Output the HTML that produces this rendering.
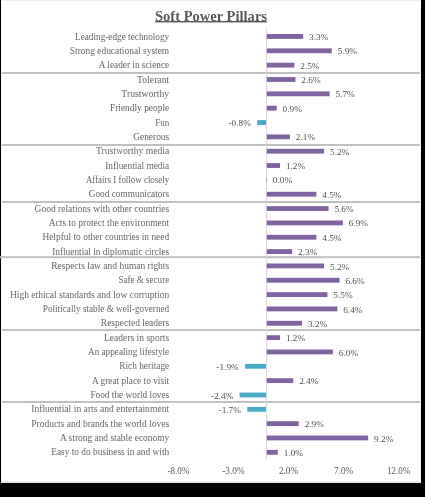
<!DOCTYPE html>
<html><head><meta charset="utf-8"><style>
html,body{margin:0;padding:0;background:#000;width:425px;height:497px;overflow:hidden}
#panel{position:absolute;left:1px;top:0;width:420px;height:483px;background:#fff}
svg{position:absolute;left:0;top:0;will-change:transform}
.lb{font-family:"Liberation Serif",serif;font-size:9.3px;fill:#666666}
.dl{font-family:"Liberation Serif",serif;font-size:9.0px;fill:#505050}
.ax{font-family:"Liberation Serif",serif;font-size:10px;fill:#595959}
.tt{font-family:"Liberation Serif",serif;font-size:14.6px;font-weight:bold;fill:#595959}
</style></head><body>
<div id="panel"></div>
<svg width="425" height="497" viewBox="0 0 425 497">
<rect x="1" y="0" width="420" height="1" fill="#ececec"/>
<rect x="1" y="481" width="420" height="2" fill="#e8e8e8"/>
<rect x="420" y="0" width="1" height="483" fill="#f7f7f7"/>
<rect x="1" y="0" width="1" height="483" fill="#f7f7f7"/>
<text x="155" y="21.1" class="tt" textLength="112" lengthAdjust="spacingAndGlyphs">Soft Power Pillars</text>
<rect x="155" y="21.0" width="112" height="1.4" fill="#595959"/>
<rect x="2" y="72.00" width="418" height="2" fill="#c0c0c0"/>
<rect x="2" y="144.00" width="418" height="2" fill="#c0c0c0"/>
<rect x="2" y="201.00" width="418" height="2" fill="#c0c0c0"/>
<rect x="0" y="256.20" width="420" height="2" fill="#c0c0c0"/>
<rect x="2" y="329.00" width="418" height="2" fill="#c0c0c0"/>
<rect x="2" y="401.00" width="418" height="2" fill="#c0c0c0"/>
<rect x="266.00" y="28.70" width="1" height="431.20" fill="#d9d9d9"/>
<text x="75.00" y="39.57" textLength="94.20" lengthAdjust="spacingAndGlyphs" class="lb">Leading-edge technology</text>
<rect x="266.80" y="34.05" width="36.37" height="4.85" fill="#8064a2"/>
<text x="309.07" y="40.07" textLength="19.31" lengthAdjust="spacingAndGlyphs" class="dl">3.3%</text>
<text x="69.80" y="53.91" textLength="99.40" lengthAdjust="spacingAndGlyphs" class="lb">Strong educational system</text>
<rect x="266.80" y="48.39" width="65.02" height="4.85" fill="#8064a2"/>
<text x="337.72" y="54.41" textLength="19.31" lengthAdjust="spacingAndGlyphs" class="dl">5.9%</text>
<text x="98.80" y="68.25" textLength="70.40" lengthAdjust="spacingAndGlyphs" class="lb">A leader in science</text>
<rect x="266.80" y="62.73" width="27.55" height="4.85" fill="#8064a2"/>
<text x="300.25" y="68.75" textLength="19.31" lengthAdjust="spacingAndGlyphs" class="dl">2.5%</text>
<text x="137.10" y="82.59" textLength="32.10" lengthAdjust="spacingAndGlyphs" class="lb">Tolerant</text>
<rect x="266.80" y="77.06" width="28.65" height="4.85" fill="#8064a2"/>
<text x="301.35" y="83.09" textLength="19.31" lengthAdjust="spacingAndGlyphs" class="dl">2.6%</text>
<text x="121.30" y="96.93" textLength="47.90" lengthAdjust="spacingAndGlyphs" class="lb">Trustworthy</text>
<rect x="266.80" y="91.41" width="62.81" height="4.85" fill="#8064a2"/>
<text x="335.51" y="97.43" textLength="19.31" lengthAdjust="spacingAndGlyphs" class="dl">5.7%</text>
<text x="110.00" y="111.27" textLength="59.20" lengthAdjust="spacingAndGlyphs" class="lb">Friendly people</text>
<rect x="266.80" y="105.75" width="9.92" height="4.85" fill="#8064a2"/>
<text x="282.62" y="111.77" textLength="19.31" lengthAdjust="spacingAndGlyphs" class="dl">0.9%</text>
<text x="155.20" y="125.61" textLength="14.00" lengthAdjust="spacingAndGlyphs" class="lb">Fun</text>
<rect x="257.18" y="120.08" width="8.82" height="4.85" fill="#4bacc6"/>
<text x="228.48" y="126.11" textLength="22.40" lengthAdjust="spacingAndGlyphs" class="dl">-0.8%</text>
<text x="133.20" y="139.95" textLength="36.00" lengthAdjust="spacingAndGlyphs" class="lb">Generous</text>
<rect x="266.80" y="134.42" width="23.14" height="4.85" fill="#8064a2"/>
<text x="295.84" y="140.45" textLength="19.31" lengthAdjust="spacingAndGlyphs" class="dl">2.1%</text>
<text x="96.00" y="154.29" textLength="73.20" lengthAdjust="spacingAndGlyphs" class="lb">Trustworthy media</text>
<rect x="266.80" y="148.76" width="57.30" height="4.85" fill="#8064a2"/>
<text x="330.00" y="154.79" textLength="19.31" lengthAdjust="spacingAndGlyphs" class="dl">5.2%</text>
<text x="105.20" y="168.63" textLength="64.00" lengthAdjust="spacingAndGlyphs" class="lb">Influential media</text>
<rect x="266.80" y="163.10" width="13.22" height="4.85" fill="#8064a2"/>
<text x="285.92" y="169.13" textLength="19.31" lengthAdjust="spacingAndGlyphs" class="dl">1.2%</text>
<text x="85.90" y="182.97" textLength="83.30" lengthAdjust="spacingAndGlyphs" class="lb">Affairs I follow closely</text>
<rect x="266" y="177.44" width="1" height="4.85" fill="#b3a2c8"/>
<text x="272.80" y="183.47" textLength="19.31" lengthAdjust="spacingAndGlyphs" class="dl">0.0%</text>
<text x="88.70" y="197.31" textLength="80.50" lengthAdjust="spacingAndGlyphs" class="lb">Good communicators</text>
<rect x="266.80" y="191.78" width="49.59" height="4.85" fill="#8064a2"/>
<text x="322.29" y="197.81" textLength="19.31" lengthAdjust="spacingAndGlyphs" class="dl">4.5%</text>
<text x="34.60" y="211.65" textLength="134.60" lengthAdjust="spacingAndGlyphs" class="lb">Good relations with other countries</text>
<rect x="266.80" y="206.12" width="61.71" height="4.85" fill="#8064a2"/>
<text x="334.41" y="212.15" textLength="19.31" lengthAdjust="spacingAndGlyphs" class="dl">5.6%</text>
<text x="48.70" y="225.99" textLength="120.50" lengthAdjust="spacingAndGlyphs" class="lb">Acts to protect the environment</text>
<rect x="266.80" y="220.47" width="76.04" height="4.85" fill="#8064a2"/>
<text x="348.74" y="226.49" textLength="19.31" lengthAdjust="spacingAndGlyphs" class="dl">6.9%</text>
<text x="42.40" y="240.33" textLength="126.80" lengthAdjust="spacingAndGlyphs" class="lb">Helpful to other countries in need</text>
<rect x="266.80" y="234.81" width="49.59" height="4.85" fill="#8064a2"/>
<text x="322.29" y="240.83" textLength="19.31" lengthAdjust="spacingAndGlyphs" class="dl">4.5%</text>
<text x="52.20" y="254.67" textLength="117.00" lengthAdjust="spacingAndGlyphs" class="lb">Influential in diplomatic circles</text>
<rect x="266.80" y="249.15" width="25.35" height="4.85" fill="#8064a2"/>
<text x="298.05" y="255.17" textLength="19.31" lengthAdjust="spacingAndGlyphs" class="dl">2.3%</text>
<text x="51.20" y="269.01" textLength="118.00" lengthAdjust="spacingAndGlyphs" class="lb">Respects law and human rights</text>
<rect x="266.80" y="263.48" width="57.30" height="4.85" fill="#8064a2"/>
<text x="330.00" y="269.51" textLength="19.31" lengthAdjust="spacingAndGlyphs" class="dl">5.2%</text>
<text x="118.40" y="283.35" textLength="50.80" lengthAdjust="spacingAndGlyphs" class="lb">Safe &amp; secure</text>
<rect x="266.80" y="277.82" width="72.73" height="4.85" fill="#8064a2"/>
<text x="345.43" y="283.85" textLength="19.31" lengthAdjust="spacingAndGlyphs" class="dl">6.6%</text>
<text x="10.00" y="297.69" textLength="159.20" lengthAdjust="spacingAndGlyphs" class="lb">High ethical standards and low corruption</text>
<rect x="266.80" y="292.17" width="60.61" height="4.85" fill="#8064a2"/>
<text x="333.31" y="298.19" textLength="19.31" lengthAdjust="spacingAndGlyphs" class="dl">5.5%</text>
<text x="42.80" y="312.03" textLength="126.40" lengthAdjust="spacingAndGlyphs" class="lb">Politically stable &amp; well-governed</text>
<rect x="266.80" y="306.50" width="70.53" height="4.85" fill="#8064a2"/>
<text x="343.23" y="312.53" textLength="19.31" lengthAdjust="spacingAndGlyphs" class="dl">6.4%</text>
<text x="100.80" y="326.37" textLength="68.40" lengthAdjust="spacingAndGlyphs" class="lb">Respected leaders</text>
<rect x="266.80" y="320.84" width="35.26" height="4.85" fill="#8064a2"/>
<text x="307.96" y="326.87" textLength="19.31" lengthAdjust="spacingAndGlyphs" class="dl">3.2%</text>
<text x="104.00" y="340.71" textLength="65.20" lengthAdjust="spacingAndGlyphs" class="lb">Leaders in sports</text>
<rect x="266.80" y="335.19" width="13.22" height="4.85" fill="#8064a2"/>
<text x="285.92" y="341.21" textLength="19.31" lengthAdjust="spacingAndGlyphs" class="dl">1.2%</text>
<text x="88.00" y="355.05" textLength="81.20" lengthAdjust="spacingAndGlyphs" class="lb">An appealing lifestyle</text>
<rect x="266.80" y="349.52" width="66.12" height="4.85" fill="#8064a2"/>
<text x="338.82" y="355.55" textLength="19.31" lengthAdjust="spacingAndGlyphs" class="dl">6.0%</text>
<text x="119.20" y="369.39" textLength="50.00" lengthAdjust="spacingAndGlyphs" class="lb">Rich heritage</text>
<rect x="245.06" y="363.87" width="20.94" height="4.85" fill="#4bacc6"/>
<text x="216.36" y="369.89" textLength="22.40" lengthAdjust="spacingAndGlyphs" class="dl">-1.9%</text>
<text x="92.00" y="383.73" textLength="77.20" lengthAdjust="spacingAndGlyphs" class="lb">A great place to visit</text>
<rect x="266.80" y="378.20" width="26.45" height="4.85" fill="#8064a2"/>
<text x="299.15" y="384.23" textLength="19.31" lengthAdjust="spacingAndGlyphs" class="dl">2.4%</text>
<text x="90.40" y="398.07" textLength="78.80" lengthAdjust="spacingAndGlyphs" class="lb">Food the world loves</text>
<rect x="239.55" y="392.55" width="26.45" height="4.85" fill="#4bacc6"/>
<text x="210.85" y="398.57" textLength="22.40" lengthAdjust="spacingAndGlyphs" class="dl">-2.4%</text>
<text x="31.20" y="412.41" textLength="138.00" lengthAdjust="spacingAndGlyphs" class="lb">Influential in arts and entertainment</text>
<rect x="247.27" y="406.88" width="18.73" height="4.85" fill="#4bacc6"/>
<text x="218.56" y="412.91" textLength="22.40" lengthAdjust="spacingAndGlyphs" class="dl">-1.7%</text>
<text x="31.20" y="426.75" textLength="138.00" lengthAdjust="spacingAndGlyphs" class="lb">Products and brands the world loves</text>
<rect x="266.80" y="421.23" width="31.96" height="4.85" fill="#8064a2"/>
<text x="304.66" y="427.25" textLength="19.31" lengthAdjust="spacingAndGlyphs" class="dl">2.9%</text>
<text x="60.00" y="441.09" textLength="109.20" lengthAdjust="spacingAndGlyphs" class="lb">A strong and stable economy</text>
<rect x="266.80" y="435.56" width="101.38" height="4.85" fill="#8064a2"/>
<text x="374.08" y="441.59" textLength="19.31" lengthAdjust="spacingAndGlyphs" class="dl">9.2%</text>
<text x="51.20" y="455.43" textLength="118.00" lengthAdjust="spacingAndGlyphs" class="lb">Easy to do business in and with</text>
<rect x="266.80" y="449.90" width="11.02" height="4.85" fill="#8064a2"/>
<text x="283.72" y="455.93" textLength="19.31" lengthAdjust="spacingAndGlyphs" class="dl">1.0%</text>
<text x="167.44" y="474" textLength="21.80" lengthAdjust="spacingAndGlyphs" class="ax">-8.0%</text>
<text x="222.29" y="474" textLength="22.30" lengthAdjust="spacingAndGlyphs" class="ax">-3.0%</text>
<text x="278.94" y="474" textLength="19.20" lengthAdjust="spacingAndGlyphs" class="ax">2.0%</text>
<text x="334.04" y="474" textLength="19.20" lengthAdjust="spacingAndGlyphs" class="ax">7.0%</text>
<text x="387.14" y="474" textLength="23.20" lengthAdjust="spacingAndGlyphs" class="ax">12.0%</text>
</svg>
</body></html>
